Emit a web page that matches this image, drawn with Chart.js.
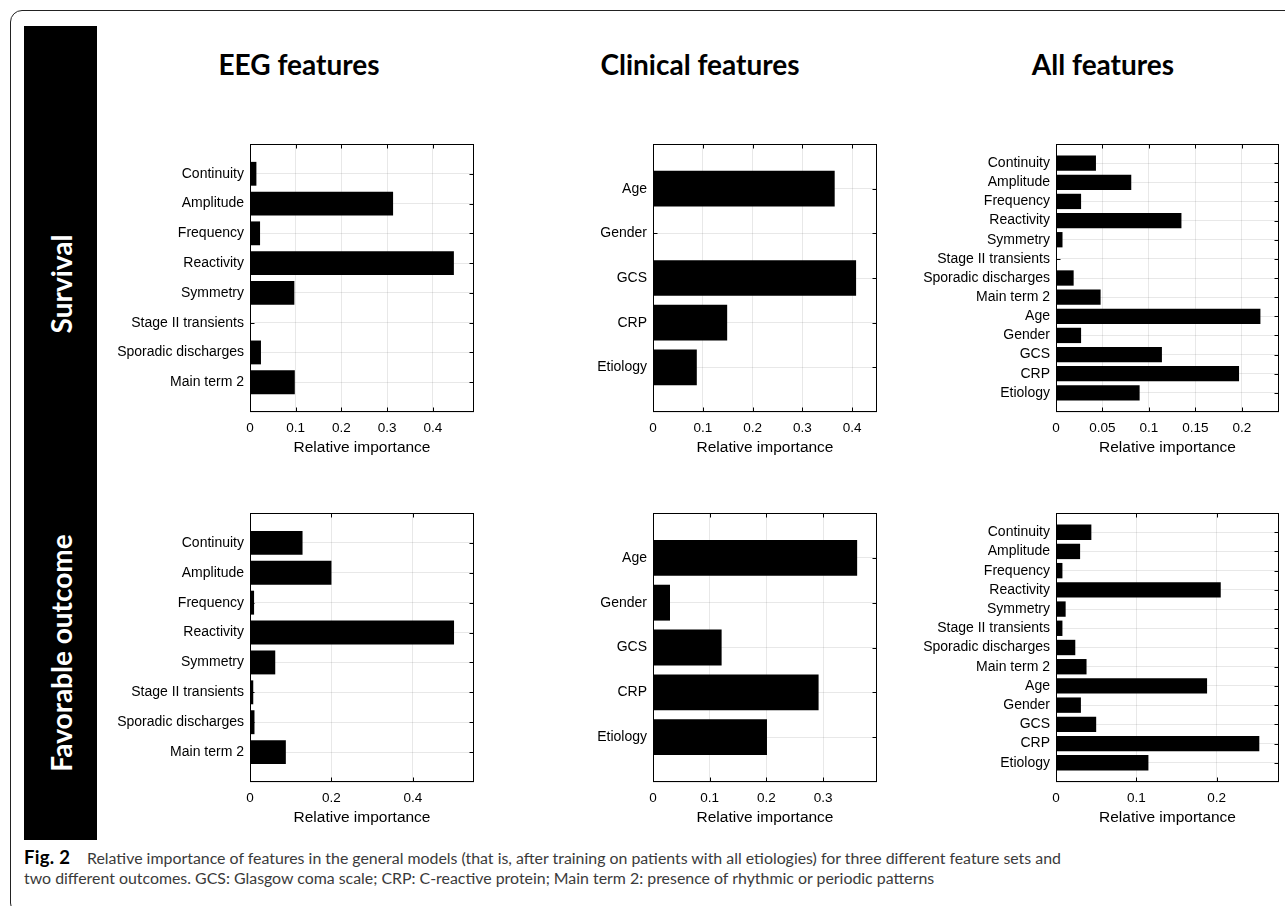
<!DOCTYPE html>
<html>
<head>
<meta charset="utf-8">
<title>Relative importance of features</title>
<script src="https://cdn.jsdelivr.net/npm/chart.js@4.4.0/dist/chart.umd.min.js"></script>
<style>
  html, body { margin: 0; padding: 0; background: #fff; overflow: hidden; }
  body { width: 1285px; height: 906px; position: relative; }
  .frame { position: absolute; left: 10px; top: 10px; width: 1300px; height: 905px;
           border: 1px solid #222; border-radius: 12px; box-sizing: border-box; }
  .side { position: absolute; left: 24px; top: 26px; width: 73px; height: 814px; background: #000; }
  .side span { position: absolute; left: 37px; color: #fff; font: bold 28px Lato, sans-serif;
               white-space: nowrap; transform: translate(-50%, -50%) rotate(-90deg); }
  .title { position: absolute; top: 64px; font: bold 28px Lato, sans-serif; color: #000;
           white-space: nowrap; transform: translate(-50%, -50%); }
  canvas { position: absolute; }
  .caption { position: absolute; left: 24px; top: 847px; font: 15.9px Lato, sans-serif;
             line-height: 20px; color: #3a3a3a; white-space: nowrap; }
  .caption b { display: inline-block; width: 63px; color: #000; font-size: 18.5px; letter-spacing: 0.3px; }
</style>
</head>
<body>
<div class="frame"></div>
<div class="side">
  <span style="top: 258px;">Survival</span>
  <span style="top: 627px;">Favorable outcome</span>
</div>
<div class="title" style="left: 299px;">EEG features</div>
<div class="title" style="left: 700px;">Clinical features</div>
<div class="title" style="left: 1103px;">All features</div>

<canvas id="eeg-survival"></canvas>
<canvas id="clinical-survival"></canvas>
<canvas id="all-survival"></canvas>
<canvas id="eeg-favorable"></canvas>
<canvas id="clinical-favorable"></canvas>
<canvas id="all-favorable"></canvas>

<div class="caption"><b>Fig. 2</b>Relative importance of features in the general models (that is, after training on patients with all etiologies) for three different feature sets and<br>two different outcomes. GCS: Glasgow coma scale; CRP: C-reactive protein; Main term 2: presence of rhythmic or periodic patterns</div>

<script>
// Catégories
const eegLabels = ['Continuity', 'Amplitude', 'Frequency', 'Reactivity', 'Symmetry',
    'Stage II transients', 'Sporadic discharges', 'Main term 2'];
const clinicalLabels = ['Age', 'Gender', 'GCS', 'CRP', 'Etiology'];
const allLabels = eegLabels.concat(clinicalLabels);

// Importance relative - survie
const eegSurvival = [0.014, 0.313, 0.022, 0.446, 0.097, 0.001, 0.024, 0.098];
const clinicalSurvival = [0.365, 0.002, 0.408, 0.149, 0.088];
const allSurvival = [0.043, 0.081, 0.027, 0.135, 0.007, 0.001, 0.019, 0.048,
    0.220, 0.027, 0.114, 0.197, 0.090];

// Importance relative - bon pronostic
const eegFavorable = [0.129, 0.200, 0.010, 0.501, 0.062, 0.008, 0.011, 0.088];
const clinicalFavorable = [0.360, 0.030, 0.121, 0.292, 0.201];
const allFavorable = [0.044, 0.030, 0.008, 0.205, 0.012, 0.008, 0.024, 0.038,
    0.188, 0.031, 0.050, 0.253, 0.115];

// Axes x : max et pas des graduations
const eegSurvivalAxis = [0.49, 0.1];
const clinicalSurvivalAxis = [0.45, 0.1];
const allSurvivalAxis = [0.24, 0.05];
const eegFavorableAxis = [0.55, 0.2];
const clinicalFavorableAxis = [0.395, 0.1];
const allFavorableAxis = [0.2775, 0.1];

const FONT = "'Liberation Sans', Arial, sans-serif";
const GRID = 'rgba(0, 0, 0, 0.09)';
const Y_AXIS_W = 145;
const X_AXIS_H = 50;
const PAD_TOP = 8;

/**
 * Cadre et graduations vers l'intérieur (style MATLAB)
 */
const matlabBox = {
    id: 'matlabBox',
    afterDatasetsDraw(chart) {
        const { ctx, chartArea: a, scales: { x, y } } = chart;
        const L = Math.round(a.left) + 0.5, R = Math.round(a.right) - 0.5;
        const T = Math.round(a.top) + 0.5, B = Math.round(a.bottom) - 0.5;
        ctx.save();
        ctx.strokeStyle = '#000';
        ctx.lineWidth = 1;
        ctx.beginPath();
        x.ticks.forEach(t => {
            const px = Math.round(x.getPixelForValue(t.value)) + 0.5;
            ctx.moveTo(px, B); ctx.lineTo(px, B - 4);
            ctx.moveTo(px, T); ctx.lineTo(px, T + 4);
        });
        y.ticks.forEach(t => {
            if (t.value < 1 || t.value > y.max - 1) return;
            const py = Math.round(y.getPixelForValue(t.value)) + 0.5;
            ctx.moveTo(L, py); ctx.lineTo(L + 4, py);
            ctx.moveTo(R, py); ctx.lineTo(R - 4, py);
        });
        ctx.stroke();
        ctx.strokeRect(L, T, R - L, B - T);
        ctx.restore();
    }
};

/**
 * Crée un graphique à barres horizontales
 */
function createBarChart(id, box, labels, values, axis) {
    const canvas = document.getElementById(id);
    canvas.width = Y_AXIS_W + box.w + box.padRight;
    canvas.height = PAD_TOP + box.h + X_AXIS_H;

    const chart = new Chart(canvas, {
        type: 'bar',
        data: {
            datasets: [{
                data: values.map((v, i) => ({ x: v, y: i + 1 })),
                backgroundColor: '#000',
                borderWidth: 0,
                barPercentage: 1,
                categoryPercentage: 0.8,
            }]
        },
        options: {
            indexAxis: 'y',
            responsive: false,
            maintainAspectRatio: false,
            animation: false,
            devicePixelRatio: 1,
            layout: { padding: { top: PAD_TOP, right: box.padRight, left: 0, bottom: 0 } },
            plugins: {
                legend: { display: false },
                tooltip: { enabled: false },
            },
            scales: {
                x: {
                    type: 'linear',
                    min: 0,
                    max: axis[0],
                    afterFit: s => {
                        s.height = X_AXIS_H;
                        s.paddingLeft = 0;
                        s.paddingRight = 0;
                    },
                    ticks: {
                        stepSize: axis[1],
                        includeBounds: false,
                        autoSkip: false,
                        maxRotation: 0,
                        padding: 8,
                        color: '#000',
                        font: { family: FONT, size: 13.5 },
                        callback: v => String(+v.toFixed(3)),
                    },
                    grid: { color: GRID, drawTicks: false },
                    border: { display: false },
                    title: {
                        display: true,
                        text: 'Relative importance',
                        color: '#000',
                        font: { family: FONT, size: 15.5 },
                        padding: { top: 0, bottom: 5 },
                    },
                },
                y: {
                    type: 'linear',
                    min: 0,
                    max: labels.length + 1,
                    reverse: true,
                    offset: false,
                    afterFit: s => {
                        s.width = Y_AXIS_W;
                        s.paddingTop = 0;
                        s.paddingBottom = 0;
                    },
                    ticks: {
                        stepSize: 1,
                        autoSkip: false,
                        padding: 6,
                        color: '#000',
                        font: { family: FONT, size: 14 },
                        callback: v => labels[v - 1] || '',
                    },
                    grid: { color: GRID, drawTicks: false, offset: false },
                    border: { display: false },
                },
            },
        },
        plugins: [matlabBox],
    });

    // Ajuster la taille pour que la zone de tracé ait exactement la taille voulue
    const a = chart.chartArea;
    const w = Math.round(a.left + box.w + (chart.width - a.right));
    const h = Math.round(a.top + box.h + (chart.height - a.bottom));
    if (w !== chart.width || h !== chart.height) {
        chart.resize(w, h);
    }
    const b = chart.chartArea;
    canvas.style.left = Math.round(box.left - b.left) + 'px';
    canvas.style.top = Math.round(box.top - b.top) + 'px';
    return chart;
}

const rowTop = [144, 513];
const rowH = [268, 269];
const col = [
    { left: 250, w: 224, padRight: 8 },
    { left: 653, w: 224, padRight: 8 },
    { left: 1056, w: 223, padRight: 6 },
];

function box(c, r) {
    return { left: col[c].left, w: col[c].w, padRight: col[c].padRight, top: rowTop[r], h: rowH[r] };
}

createBarChart('eeg-survival', box(0, 0), eegLabels, eegSurvival, eegSurvivalAxis);
createBarChart('clinical-survival', box(1, 0), clinicalLabels, clinicalSurvival, clinicalSurvivalAxis);
createBarChart('all-survival', box(2, 0), allLabels, allSurvival, allSurvivalAxis);
createBarChart('eeg-favorable', box(0, 1), eegLabels, eegFavorable, eegFavorableAxis);
createBarChart('clinical-favorable', box(1, 1), clinicalLabels, clinicalFavorable, clinicalFavorableAxis);
createBarChart('all-favorable', box(2, 1), allLabels, allFavorable, allFavorableAxis);
</script>
</body>
</html>
